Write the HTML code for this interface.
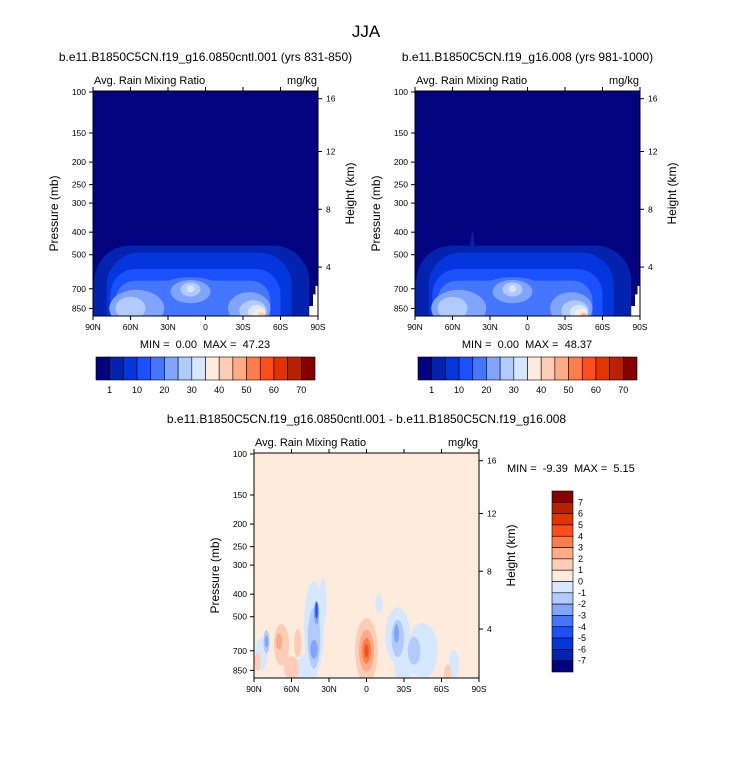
<!DOCTYPE html>
<html><head><meta charset="utf-8">
<style>
body{margin:0;background:#fff;}
svg{display:block;font-family:"Liberation Sans",Arial,sans-serif;}
text{white-space:pre;}
</style></head>
<body>
<svg id="fig" width="733" height="770" viewBox="0 0 733 770">
<text x="366" y="37" font-size="17" text-anchor="middle">JJA</text>
</svg>
<script>
// ---- data ----
const latTicks = [90, 60, 30, 0, -30, -60, -90];
const latLabels = ["90N", "60N", "30N", "0", "30S", "60S", "90S"];
const presTicks = [100, 150, 200, 250, 300, 400, 500, 700, 850];
const hgtTicks = [4, 8, 12, 16];
const absColors = ["#03037f","#0322ad","#0336dc","#1a50ff","#4576ff","#80a4ff","#b2cbff","#d6e8ff","#ffebdc","#ffcdb6","#ffab88","#ff7c4c","#ff4e1c","#e33300","#b82202","#870000"];
const absLabels = ["1","10","20","30","40","50","60","70"];
const diffLabels = ["7","6","5","4","3","2","1","0","-1","-2","-3","-4","-5","-6","-7"];
// blobs: [level, lat, pressure, halfWidthDeg, halfDepthLog10]
const blobsA = [
 [1,3,1000,86,0.34],[1,84,1000,8,0.25],
 [2,5,1000,74,0.31],
 [3,8,1000,68,0.24],
 [4,10,1000,62,0.19],[4,12,700,24,0.05],
 [5,55,850,22,0.08],[5,12,720,16,0.05],[5,-35,850,17,0.07],
 [6,60,850,12,0.05],[6,12,705,8,0.03],[6,-38,870,11,0.045],
 [7,12,700,3,0.015],[7,-41,880,7,0.03],
 [8,-43,895,5,0.02],[9,-45,910,3,0.013]
];
const blobsB = [
 [1,3,1000,86,0.34],[1,84,1000,8,0.25],[1,44,470,1.5,0.07],
 [2,5,1000,74,0.31],
 [3,8,1000,68,0.24],
 [4,10,1000,62,0.19],[4,12,700,24,0.05],
 [5,55,850,22,0.08],[5,12,720,16,0.05],[5,-35,850,17,0.07],
 [6,60,850,12,0.05],[6,12,705,8,0.03],[6,-38,870,11,0.045],
 [7,12,700,3,0.015],[7,-41,880,7,0.03],
 [8,-43,895,5,0.02],[9,-45,910,3,0.013],[10,-45,915,2,0.01]
];
const blobsD = [
 [7,42,560,8,0.2],[7,35,430,3,0.1],[7,-25,600,10,0.12],[7,-45,700,12,0.12],[7,-10,440,3,0.04],[7,84,720,5,0.07],[7,48,850,9,0.07],[7,-30,820,8,0.06],[7,-70,800,4,0.06],
 [6,42,620,5,0.13],[6,-25,620,5,0.08],[6,-38,700,5,0.06],[6,80,640,2.5,0.05],
 [5,40,480,2,0.05],[5,-24,590,2,0.04],[5,42,690,3,0.04],[5,80,640,1.5,0.025],
 [3,40,470,1,0.035],
 [9,0,700,9,0.14],[9,68,660,6,0.09],[9,87,780,2.5,0.04],[9,-65,880,3,0.04],[9,55,650,3,0.06],[9,60,830,6,0.05],
 [10,0,700,6,0.09],[10,70,640,2.5,0.035],
 [11,0,700,3.5,0.055],[12,0,700,1.8,0.028]
];
const panelA = {title:"b.e11.B1850C5CN.f19_g16.0850cntl.001 (yrs 831-850)", min:"0.00", max:"47.23"};
const panelB = {title:"b.e11.B1850C5CN.f19_g16.008 (yrs 981-1000)", min:"0.00", max:"48.37"};
const panelD = {title:"b.e11.B1850C5CN.f19_g16.0850cntl.001 - b.e11.B1850C5CN.f19_g16.008", min:"-9.39", max:"5.15"};

const NS="http://www.w3.org/2000/svg";
const svg=document.getElementById('fig');
function mk(tag,attrs,parent){const e=document.createElementNS(NS,tag);for(const k in attrs)e.setAttribute(k,attrs[k]);(parent||svg).appendChild(e);return e;}

let clipN=0;
function panel(px,py,blobs,bg,info,name,mask){
  const W=225,H=225;
  const g=mk('g',{});
  
  
  const xOf=lat=>px+(90-lat)/180*W;
  const k=41/Math.log10(1.5);
  const yOf=p=>py+1+(Math.log10(p)-2)*k;
  const id='c'+(clipN++);
  const cp=mk('clipPath',{id:id},g);mk('rect',{x:px,y:py,width:W,height:H},cp);
  const field=mk('g',{'clip-path':'url(#'+id+')'},g);
  const bgr=mk('rect',{x:px,y:py,width:W,height:H,fill:bg},field);
  
  
  blobs.forEach(b=>{
    const cx=xOf(b[1]), cy=yOf(b[2]);
    const rx=b[3]/180*W, ry=b[4]*k;
    let e;
    if(rx>25 && ry>25){
      const r=Math.min(rx,ry)*0.45;
      e=mk('rect',{x:cx-rx,y:cy-ry,width:2*rx,height:2*ry,rx:r,ry:r,fill:absColors[b[0]]},field);
    } else {
      e=mk('ellipse',{cx:cx,cy:cy,rx:rx,ry:ry,fill:absColors[b[0]]},field);
    }
    
    
  });
  if(mask){
    const m=mk('path',{d:`M${xOf(-83)} ${py+H} L${xOf(-83)} ${yOf(830)} L${xOf(-86)} ${yOf(830)} L${xOf(-86)} ${yOf(740)} L${xOf(-88)} ${yOf(740)} L${xOf(-88)} ${yOf(680)} L${px+W} ${yOf(680)} L${px+W} ${py+H}Z`,fill:'#fff'},field);
    
    
  }
  mk('rect',{x:px,y:py,width:W,height:H,fill:'none',stroke:'#000','stroke-width':1},g);
  latTicks.forEach((l,i)=>{
    const x=xOf(l);
    mk('line',{x1:x,y1:py+H,x2:x,y2:py+H+4,stroke:'#000'},g);
    mk('line',{x1:x,y1:py,x2:x,y2:py-4,stroke:'#000'},g);
    const t=mk('text',{x:x,y:py+H+14,'font-size':8.5,'text-anchor':'middle'},g);t.textContent=latLabels[i];
    
    
  });
  presTicks.forEach(p=>{
    const y=yOf(p);
    mk('line',{x1:px,y1:y,x2:px-4,y2:y,stroke:'#000'},g);
    const t=mk('text',{x:px-7,y:y+3,'font-size':8.5,'text-anchor':'end'},g);t.textContent=p;
    
    
  });
  hgtTicks.forEach(h=>{
    const p=1000*Math.exp(-h/7);
    const y=yOf(p)+ (h===16?5:0);
    mk('line',{x1:px+W,y1:y,x2:px+W+4,y2:y,stroke:'#000'},g);
    const t=mk('text',{x:px+W+8,y:y+3,'font-size':8.5},g);t.textContent=h;
    
    
  });
  let t=mk('text',{x:px+W/2,y:py-30,'font-size':12,'text-anchor':'middle'},g);t.textContent=info.title;
  
  
  t=mk('text',{x:px+1,y:py-7,'font-size':11},g);t.textContent="Avg. Rain Mixing Ratio";
  
  
  t=mk('text',{x:px+W-1,y:py-7,'font-size':11,'text-anchor':'end'},g);t.textContent="mg/kg";
  
  
  t=mk('text',{x:px-35,y:py+H/2+10,'font-size':12,'text-anchor':'middle',transform:`rotate(-90 ${px-35} ${py+H/2+10})`},g);t.textContent="Pressure (mb)";
  
  
  t=mk('text',{x:px+W+36,y:py+H/2-10,'font-size':12,'text-anchor':'middle',transform:`rotate(-90 ${px+W+36} ${py+H/2-10})`},g);t.textContent="Height (km)";
  
  
  return g;
}

function minmax(x,y,info,anchor){
  const t=mk('text',{x:x,y:y,'font-size':11,'text-anchor':anchor});
  t.textContent=`MIN =  ${info.min}  MAX =  ${info.max}`.replace(/ /g,'\u00a0');
  
  
}

function hbar(x,y,w,h,name){
  const g=mk('g',{});
  
  
  const bw=w/absColors.length;
  absColors.forEach((c,i)=>{
    const r=mk('rect',{x:x+i*bw,y:y,width:bw,height:h,fill:c,stroke:'#000','stroke-width':0.6},g);
    
    
  });
  absLabels.forEach((l,i)=>{
    const t=mk('text',{x:x+(2*i+1)*bw,y:y+h+13,'font-size':9,'text-anchor':'middle'},g);t.textContent=l;
    
    
  });
}

function vbar(x,y,w,h){
  const g=mk('g',{});
  
  
  const n=absColors.length, bh=h/n;
  for(let i=0;i<n;i++){
    const r=mk('rect',{x:x,y:y+i*bh,width:w,height:bh,fill:absColors[n-1-i],stroke:'#000','stroke-width':0.6},g);
    
    
  }
  diffLabels.forEach((l,i)=>{
    const t=mk('text',{x:x+w+5,y:y+(i+1)*bh+3,'font-size':9},g);t.textContent=l;
    
    
  });
}

panel(93,91,blobsA,absColors[0],panelA,'panel-control',true);
minmax(205,348,panelA,'middle');
hbar(96,357,219,23,'colorbar-control');
panel(415,91,blobsB,absColors[0],panelB,'panel-experiment',true);
minmax(527,348,panelB,'middle');
hbar(418,357,219,23,'colorbar-experiment');
panel(254,453,blobsD,absColors[8],panelD,'panel-difference',false);
minmax(507,472,panelD,'start');
vbar(552,491,21,181);
</script>
</body></html>
